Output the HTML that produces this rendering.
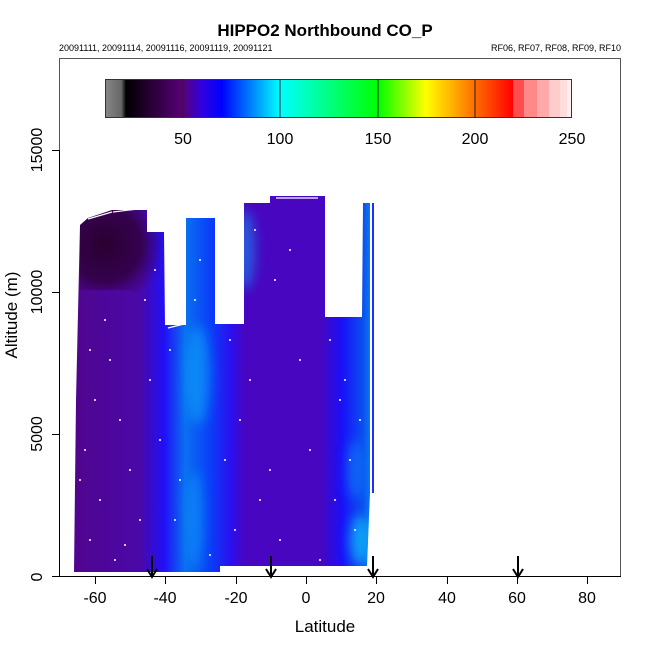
<!DOCTYPE html>
<html><head><meta charset="utf-8"><style>
html,body{margin:0;padding:0;background:#fff;}
svg text{font-family:"Liberation Sans",Arial,sans-serif;}
</style></head><body>
<svg width="650" height="650" viewBox="0 0 650 650" xmlns="http://www.w3.org/2000/svg">
<defs>
<linearGradient id="cb" x1="105" x2="572" y1="0" y2="0" gradientUnits="userSpaceOnUse">
<stop offset="0" stop-color="#888"/>
<stop offset="0.035" stop-color="#666"/>
<stop offset="0.045" stop-color="#000"/>
<stop offset="0.167" stop-color="#5a0078"/>
<stop offset="0.208" stop-color="#3000e0"/>
<stop offset="0.25" stop-color="#0000ff"/>
<stop offset="0.375" stop-color="#00ffff"/>
<stop offset="0.48" stop-color="#00ff80"/>
<stop offset="0.585" stop-color="#00ff00"/>
<stop offset="0.687" stop-color="#ffff00"/>
<stop offset="0.79" stop-color="#ff7000"/>
<stop offset="0.874" stop-color="#ff0000"/>
</linearGradient>
<linearGradient id="dg" x1="74" x2="375" y1="0" y2="0" gradientUnits="userSpaceOnUse">
<stop offset="0" stop-color="#50058e"/>
<stop offset="0.22" stop-color="#4a08a8"/>
<stop offset="0.3" stop-color="#2010f8"/>
<stop offset="0.37" stop-color="#0a70f0"/>
<stop offset="0.45" stop-color="#0a40f8"/>
<stop offset="0.52" stop-color="#2a10f0"/>
<stop offset="0.57" stop-color="#4806c0"/>
<stop offset="0.82" stop-color="#4806c0"/>
<stop offset="0.89" stop-color="#1a10f8"/>
<stop offset="0.96" stop-color="#0a50f0"/>
<stop offset="1" stop-color="#1090f0"/>
</linearGradient>
<radialGradient id="dk" cx="105" cy="245" r="60" gradientUnits="userSpaceOnUse">
<stop offset="0" stop-color="#2a0030" stop-opacity="1"/>
<stop offset="0.6" stop-color="#300040" stop-opacity="0.85"/>
<stop offset="1" stop-color="#400060" stop-opacity="0"/>
</radialGradient>
<filter id="bl" x="-1" y="-1" width="3" height="3"><feGaussianBlur stdDeviation="6"/></filter>
<clipPath id="cp"><path d="M74,572 L76,400 L80,225 L88,218 L112,210 L147,210 L147,232 L164,232 L165,325 L186,325 L186,218 L215,218 L215,324 L244,324 L244,203 L270,203 L270,196 L325,196 L325,317 L362,317 L363,203 L370,203 L370,493 L367,566 L220,566 L220,572 Z"/></clipPath>
</defs>
<text x="325" y="36" font-size="17" font-weight="bold" text-anchor="middle">HIPPO2 Northbound CO_P</text>
<text x="59" y="51" font-size="9">20091111, 20091114, 20091116, 20091119, 20091121</text>
<text x="621" y="51" font-size="9" text-anchor="end">RF06, RF07, RF08, RF09, RF10</text>
<rect x="59.5" y="58.5" width="561" height="518" fill="none" stroke="#555" stroke-width="1"/>
<rect x="105" y="79" width="467" height="39" fill="url(#cb)"/>
<rect x="513" y="79" width="11" height="39" fill="#ff4c4c"/>
<rect x="524" y="79" width="13" height="39" fill="#ff8888"/>
<rect x="537" y="79" width="12" height="39" fill="#ffaaaa"/>
<rect x="549" y="79" width="11" height="39" fill="#ffcccc"/>
<rect x="560" y="79" width="7" height="39" fill="#ffdddd"/>
<rect x="567" y="79" width="5" height="39" fill="#ffeeee"/>
<rect x="105.5" y="79.5" width="466" height="38" fill="none" stroke="#333"/>
<g stroke="#222" stroke-width="1">
<line x1="183" y1="79" x2="183" y2="118"/><line x1="280" y1="79" x2="280" y2="118"/>
<line x1="378" y1="79" x2="378" y2="118"/><line x1="475" y1="79" x2="475" y2="118"/>
</g>
<g font-size="16" text-anchor="middle">
<text x="183" y="144">50</text><text x="280" y="144">100</text><text x="378" y="144">150</text><text x="475" y="144">200</text><text x="572" y="144">250</text>
</g>
<g clip-path="url(#cp)">
<rect x="70" y="190" width="310" height="390" fill="url(#dg)"/>
<path d="M80,225 L88,218 L112,210 L147,210 L147,232 L164,232 L164,300 L130,290 L80,290 Z" fill="url(#dk)"/>
<g filter="url(#bl)" opacity="0.55">
<ellipse cx="198" cy="375" rx="12" ry="50" fill="#10b0f8"/>
<ellipse cx="195" cy="520" rx="8" ry="50" fill="#10a0f8"/>
<ellipse cx="245" cy="250" rx="10" ry="40" fill="#10a0f8"/>
<ellipse cx="360" cy="540" rx="10" ry="25" fill="#10f0f8"/>
<ellipse cx="355" cy="470" rx="8" ry="30" fill="#1090f8"/>
</g>
</g>
<rect x="372" y="203" width="2" height="290" fill="#1a30f8"/>
<g fill="#fff">
<circle cx="90" cy="350" r="1"/><circle cx="110" cy="360" r="1"/><circle cx="95" cy="400" r="1"/><circle cx="120" cy="420" r="1"/><circle cx="85" cy="450" r="1"/><circle cx="130" cy="470" r="1"/><circle cx="100" cy="500" r="1"/><circle cx="140" cy="520" r="1"/><circle cx="90" cy="540" r="1"/><circle cx="115" cy="560" r="1"/><circle cx="150" cy="380" r="1"/><circle cx="160" cy="440" r="1"/><circle cx="145" cy="300" r="1"/><circle cx="155" cy="270" r="1"/><circle cx="170" cy="350" r="1"/><circle cx="180" cy="480" r="1"/><circle cx="200" cy="260" r="1"/><circle cx="195" cy="300" r="1"/><circle cx="230" cy="340" r="1"/><circle cx="250" cy="380" r="1"/><circle cx="240" cy="420" r="1"/><circle cx="225" cy="460" r="1"/><circle cx="260" cy="500" r="1"/><circle cx="280" cy="540" r="1"/><circle cx="255" cy="230" r="1"/><circle cx="275" cy="280" r="1"/><circle cx="300" cy="360" r="1"/><circle cx="310" cy="450" r="1"/><circle cx="290" cy="250" r="1"/><circle cx="330" cy="340" r="1"/><circle cx="340" cy="400" r="1"/><circle cx="350" cy="460" r="1"/><circle cx="335" cy="500" r="1"/><circle cx="355" cy="530" r="1"/><circle cx="345" cy="380" r="1"/><circle cx="360" cy="420" r="1"/><circle cx="105" cy="320" r="1"/><circle cx="80" cy="480" r="1"/><circle cx="125" cy="545" r="1"/><circle cx="175" cy="520" r="1"/><circle cx="210" cy="555" r="1"/><circle cx="320" cy="560" r="1"/><circle cx="235" cy="530" r="1"/><circle cx="270" cy="470" r="1"/>
</g>
<g stroke="#fff" stroke-width="1.2">
<line x1="88" y1="219" x2="112" y2="212"/><line x1="113" y1="212" x2="138" y2="209"/>
<line x1="276" y1="198" x2="318" y2="198"/><line x1="168" y1="328" x2="184" y2="324"/>
</g>
<g stroke="#000" stroke-width="1">
<line x1="59.5" y1="150" x2="59.5" y2="577"/>
<line x1="52" y1="150.5" x2="59" y2="150.5"/><line x1="52" y1="292.5" x2="59" y2="292.5"/><line x1="52" y1="434.5" x2="59" y2="434.5"/><line x1="52" y1="576.5" x2="59" y2="576.5"/>
<line x1="52" y1="576.5" x2="621" y2="576.5"/>
<line x1="95.5" y1="577" x2="95.5" y2="584"/><line x1="165.5" y1="577" x2="165.5" y2="584"/><line x1="236.5" y1="577" x2="236.5" y2="584"/><line x1="306.5" y1="577" x2="306.5" y2="584"/><line x1="376.5" y1="577" x2="376.5" y2="584"/><line x1="447.5" y1="577" x2="447.5" y2="584"/><line x1="517.5" y1="577" x2="517.5" y2="584"/><line x1="587.5" y1="577" x2="587.5" y2="584"/>
</g>
<g font-size="16" text-anchor="middle">
<text x="95" y="603">-60</text><text x="165" y="603">-40</text><text x="236" y="603">-20</text><text x="306" y="603">0</text><text x="376" y="603">20</text><text x="447" y="603">40</text><text x="517" y="603">60</text><text x="587" y="603">80</text>
<text x="325" y="632" font-size="17">Latitude</text>
<text transform="translate(42,577) rotate(-90)">0</text>
<text transform="translate(42,434) rotate(-90)">5000</text>
<text transform="translate(42,292) rotate(-90)">10000</text>
<text transform="translate(42,150) rotate(-90)">15000</text>
<text transform="translate(17,315) rotate(-90)" font-size="17">Altitude (m)</text>
</g>
<g stroke="#000" stroke-width="2" fill="none">
<path d="M152,556 V576 M147,569 L152,577 L157,569"/>
<path d="M271,556 V576 M266,569 L271,577 L276,569"/>
<path d="M373,556 V576 M368,569 L373,577 L378,569"/>
<path d="M518,556 V576 M513,569 L518,577 L523,569"/>
</g>
</svg>
</body></html>
